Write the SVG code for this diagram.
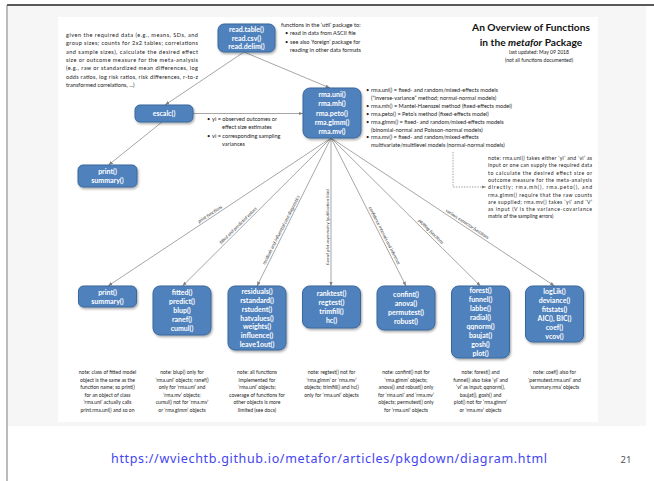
<svg xmlns="http://www.w3.org/2000/svg" width="654" height="481" viewBox="0 0 654 481">
<defs>
<style>
.box{fill:#4f81bd;stroke:#3a679c;stroke-width:1;filter:url(#sh)}
.bt{font-family:Lato,"Liberation Sans",sans-serif;font-weight:bold;font-size:7px;fill:#fff;text-anchor:middle}
.t{font-family:Lato,"Liberation Sans",sans-serif;font-size:5.6px;fill:#222}
.s{font-size:5.1px}
.n{font-family:Lato,"Liberation Sans",sans-serif;font-size:5.1px;fill:#222;text-anchor:middle}
.lab{font-family:Lato,"Liberation Sans",sans-serif;font-style:italic;font-size:4.6px;fill:#333;text-anchor:middle}
.ln{stroke:#808080;stroke-width:0.7;fill:none;marker-end:url(#ah)}
.dash{stroke:#808080;stroke-width:0.7;fill:none;stroke-dasharray:1.5 1.2;marker-end:url(#ah)}
.title{font-family:Lato,"Liberation Sans",sans-serif;font-weight:bold;font-size:10.2px;fill:#111;text-anchor:middle}
</style>
<filter id="sh" x="-20%" y="-20%" width="150%" height="150%">
<feDropShadow dx="1" dy="1.5" stdDeviation="0.8" flood-color="#000" flood-opacity="0.35"/>
</filter>
<marker id="ah" viewBox="0 0 10 10" refX="10" refY="5" markerWidth="4.5" markerHeight="4.5" orient="auto" markerUnits="userSpaceOnUse">
<path d="M0,1 L10,5 L0,9 z" fill="#808080"/>
</marker>
</defs>

<g id="slide">
<rect x="0" y="0" width="654" height="481" fill="#fff"/>
<rect x="8" y="6" width="638" height="420" fill="#f6f6f6"/>
<rect x="58" y="17" width="540" height="405" fill="#fff"/>
<line x1="7" y1="5" x2="654" y2="5" stroke="#222" stroke-width="1.5"/>
<line x1="7" y1="5" x2="7" y2="481" stroke="#777" stroke-width="1"/>
</g>

<g id="connectors">
<path class="ln" d="M244,52 L165,105"/>
<path class="ln" d="M244,52 L330,88"/>
<path class="ln" d="M162,122 L108.5,165"/>
<path class="ln" d="M193,113.5 L303,113.5"/>
<path class="ln" d="M331,138 L108,286"/>
<path class="ln" d="M331,138 L182.5,286"/>
<path class="ln" d="M331,138 L257,286"/>
<path class="ln" d="M331,138 L331,286"/>
<path class="ln" d="M331,138 L406,286"/>
<path class="ln" d="M331,138 L480.5,286"/>
<path class="ln" d="M331,138 L554.5,286"/>
<path class="dash" d="M453,152 L453,187 L486,187"/>
<text class="lab" transform="translate(210,214) rotate(-33.2)" y="1.6">print functions</text>
<text class="lab" transform="translate(238,225.5) rotate(-44.6)" y="1.6">fitted and predicted values</text>
<text class="lab" transform="translate(281,230) rotate(-63)" y="1.6">residuals and influential case diagnostics</text>
<text class="lab" transform="translate(327.5,227) rotate(-90)" y="1.6">funnel plot asymmetry (publication bias)</text>
<text class="lab" transform="translate(384.5,235.5) rotate(63.1)" y="1.6">confidence intervals and inference</text>
<text class="lab" transform="translate(431,231.5) rotate(44.4)" y="1.6">plotting functions</text>
<text class="lab" transform="translate(467.5,224) rotate(33.3)" y="1.6">various extractor functions</text>
</g>

<g id="intro-text">
<text class="t" x="66" y="37" textLength="132" lengthAdjust="spacing">given the required data (e.g., means, SDs, and</text>
<text class="t" x="66" y="45.3" textLength="132" lengthAdjust="spacing">group sizes; counts for 2x2 tables; correlations</text>
<text class="t" x="66" y="53.6" textLength="132" lengthAdjust="spacing">and sample sizes), calculate the desired effect</text>
<text class="t" x="66" y="61.9" textLength="132" lengthAdjust="spacing">size or outcome measure for the meta-analysis</text>
<text class="t" x="66" y="70.2" textLength="132" lengthAdjust="spacing">(e.g., raw or standardized mean differences, log</text>
<text class="t" x="66" y="78.5" textLength="132" lengthAdjust="spacing">odds ratios, log risk ratios, risk differences, r-to-z</text>
<text class="t" x="66" y="86.8">transformed correlations, ...)</text>
</g>

<g id="title">
<text class="title" x="531" y="31">An Overview of Functions</text>
<text class="title" x="531" y="46">in the <tspan font-style="italic">metafor</tspan> Package</text>
<text class="n" x="539" y="54">last updated: May 09 2018</text>
<text class="n" x="539" y="62">(not all functions documented)</text>
</g>

<g id="read">
<rect class="box" x="218" y="24" width="57" height="28" rx="6"/>
<text class="bt" x="246.5" y="31.9">read.table()</text>
<text class="bt" x="246.5" y="40.5">read.csv()</text>
<text class="bt" x="246.5" y="49.1">read.delim()</text>
</g>
<g id="read-note">
<text class="t" x="281" y="27">functions in the ‘util’ package to:</text>
<text class="t" x="285" y="35.3">•</text><text class="t" x="290" y="35.3">read in data from ASCII file</text>
<text class="t" x="285" y="43.6">•</text><text class="t" x="290" y="43.6">see also ‘foreign’ package for</text>
<text class="t" x="290" y="51.9">reading in other data formats</text>
</g>

<g id="escalc">
<rect class="box" x="135" y="105" width="58" height="17" rx="5"/>
<text class="bt" x="164" y="116">escalc()</text>
</g>
<g id="escalc-note">
<text class="t" x="207" y="121">•</text><text class="t" x="212" y="121">yi = observed outcomes or</text>
<text class="t" x="222" y="129.3">effect size estimates</text>
<text class="t" x="207" y="137.6">•</text><text class="t" x="212" y="137.6">vi = corresponding sampling</text>
<text class="t" x="222" y="145.9">variances</text>
</g>

<g id="print-top">
<rect class="box" x="78" y="165" width="59" height="22" rx="5"/>
<text class="bt" x="107.5" y="174">print()</text>
<text class="bt" x="107.5" y="183">summary()</text>
</g>

<g id="rma">
<rect class="box" x="303" y="88" width="58" height="50" rx="7"/>
<text class="bt" x="332" y="97">rma.uni()</text>
<text class="bt" x="332" y="106.25">rma.mh()</text>
<text class="bt" x="332" y="115.5">rma.peto()</text>
<text class="bt" x="332" y="124.75">rma.glmm()</text>
<text class="bt" x="332" y="134">rma.mv()</text>
</g>
<g id="rma-note">
<text class="t" x="366" y="92">•</text><text class="t" x="371" y="92">rma.uni() = fixed- and random/mixed-effects models</text>
<text class="t" x="371" y="99.9">(“inverse-variance” method; normal-normal models)</text>
<text class="t" x="366" y="107.8">•</text><text class="t" x="371" y="107.8">rma.mh() = Mantel-Haenszel method (fixed-effects model)</text>
<text class="t" x="366" y="115.7">•</text><text class="t" x="371" y="115.7">rma.peto() = Peto’s method (fixed-effects model)</text>
<text class="t" x="366" y="123.6">•</text><text class="t" x="371" y="123.6">rma.glmm() = fixed- and random/mixed-effects models</text>
<text class="t" x="371" y="131.5">(binomial-normal and Poisson-normal models)</text>
<text class="t" x="366" y="139.4">•</text><text class="t" x="371" y="139.4">rma.mv() = fixed- and random/mixed-effects</text>
<text class="t" x="371" y="147.3">multivariate/multilevel models (normal-normal models)</text>
</g>

<g id="rma-input-note">
<text class="t s" x="488" y="160" textLength="104" lengthAdjust="spacing">note: rma.uni() takes either ‘yi’ and ‘vi’ as</text>
<text class="t s" x="488" y="167.3" textLength="104" lengthAdjust="spacing">input or one can supply the required data</text>
<text class="t s" x="488" y="174.6" textLength="104" lengthAdjust="spacing">to calculate the desired effect size or</text>
<text class="t s" x="488" y="181.9" textLength="104" lengthAdjust="spacing">outcome measure for the meta-analysis</text>
<text class="t s" x="488" y="189.2" textLength="104" lengthAdjust="spacing">directly; rma.mh(), rma.peto(), and</text>
<text class="t s" x="488" y="196.5" textLength="104" lengthAdjust="spacing">rma.glmm() require that the raw counts</text>
<text class="t s" x="488" y="203.8" textLength="104" lengthAdjust="spacing">are supplied; rma.mv() takes ‘yi’ and ‘V’</text>
<text class="t s" x="488" y="211.1" textLength="104" lengthAdjust="spacing">as input (V is the variance-covariance</text>
<text class="t s" x="488" y="218.4">matrix of the sampling errors)</text>
</g>

<g id="print">
<rect class="box" x="78.5" y="286" width="58" height="21" rx="5"/>
<text class="bt" x="107.5" y="294.5">print()</text>
<text class="bt" x="107.5" y="303.5">summary()</text>
</g>
<g id="fitted">
<rect class="box" x="153" y="286" width="58" height="49" rx="7"/>
<text class="bt" x="182" y="295.2">fitted()</text>
<text class="bt" x="182" y="304.1">predict()</text>
<text class="bt" x="182" y="313">blup()</text>
<text class="bt" x="182" y="321.9">ranef()</text>
<text class="bt" x="182" y="330.8">cumul()</text>
</g>
<g id="residuals">
<rect class="box" x="228" y="286" width="58" height="64" rx="7"/>
<text class="bt" x="257" y="293.8">residuals()</text>
<text class="bt" x="257" y="302.7">rstandard()</text>
<text class="bt" x="257" y="311.6">rstudent()</text>
<text class="bt" x="257" y="320.5">hatvalues()</text>
<text class="bt" x="257" y="329.4">weights()</text>
<text class="bt" x="257" y="338.3">influence()</text>
<text class="bt" x="257" y="347.2">leave1out()</text>
</g>
<g id="ranktest">
<rect class="box" x="302.5" y="286" width="58" height="42" rx="7"/>
<text class="bt" x="331.5" y="296.2">ranktest()</text>
<text class="bt" x="331.5" y="305.1">regtest()</text>
<text class="bt" x="331.5" y="314">trimfill()</text>
<text class="bt" x="331.5" y="322.9">hc()</text>
</g>
<g id="confint">
<rect class="box" x="377" y="286" width="58" height="44" rx="7"/>
<text class="bt" x="406" y="297.2">confint()</text>
<text class="bt" x="406" y="306.1">anova()</text>
<text class="bt" x="406" y="315">permutest()</text>
<text class="bt" x="406" y="323.9">robust()</text>
</g>
<g id="forest">
<rect class="box" x="451.5" y="286" width="58" height="72" rx="7"/>
<text class="bt" x="480.5" y="293.4">forest()</text>
<text class="bt" x="480.5" y="302.3">funnel()</text>
<text class="bt" x="480.5" y="311.2">labbe()</text>
<text class="bt" x="480.5" y="320.1">radial()</text>
<text class="bt" x="480.5" y="329">qqnorm()</text>
<text class="bt" x="480.5" y="337.9">baujat()</text>
<text class="bt" x="480.5" y="346.8">gosh()</text>
<text class="bt" x="480.5" y="355.7">plot()</text>
</g>
<g id="loglik">
<rect class="box" x="525.5" y="286" width="58" height="56" rx="7"/>
<text class="bt" x="554.5" y="294.3">logLik()</text>
<text class="bt" x="554.5" y="303.2">deviance()</text>
<text class="bt" x="554.5" y="312.1">fitstats()</text>
<text class="bt" x="554.5" y="321">AIC(), BIC()</text>
<text class="bt" x="554.5" y="329.9">coef()</text>
<text class="bt" x="554.5" y="338.8">vcov()</text>
</g>

<g id="notes">
<text class="n" x="107.5" y="374">note: class of fitted model</text>
<text class="n" x="107.5" y="381.5">object is the same as the</text>
<text class="n" x="107.5" y="389">function name; so print()</text>
<text class="n" x="107.5" y="396.5">for an object of class</text>
<text class="n" x="107.5" y="404">‘rma.uni’ actually calls</text>
<text class="n" x="107.5" y="411.5">print.rma.uni() and so on</text>

<text class="n" x="182" y="374">note: blup() only for</text>
<text class="n" x="182" y="381.5">‘rma.uni’ objects; ranef()</text>
<text class="n" x="182" y="389">only for ‘rma.uni’ and</text>
<text class="n" x="182" y="396.5">‘rma.mv’ objects;</text>
<text class="n" x="182" y="404">cumul() not for ‘rma.mv’</text>
<text class="n" x="182" y="411.5">or ‘rma.glmm’ objects</text>

<text class="n" x="257" y="374">note: all functions</text>
<text class="n" x="257" y="381.5">implemented for</text>
<text class="n" x="257" y="389">‘rma.uni’ objects;</text>
<text class="n" x="257" y="396.5">coverage of functions for</text>
<text class="n" x="257" y="404">other objects is more</text>
<text class="n" x="257" y="411.5">limited (see docs)</text>

<text class="n" x="331.5" y="374">note: regtest() not for</text>
<text class="n" x="331.5" y="381.5">‘rma.glmm’ or ‘rma.mv’</text>
<text class="n" x="331.5" y="389">objects; trimfill() and hc()</text>
<text class="n" x="331.5" y="396.5">only for ‘rma.uni’ objects</text>

<text class="n" x="406" y="374">note: confint() not for</text>
<text class="n" x="406" y="381.5">‘rma.glmm’ objects;</text>
<text class="n" x="406" y="389">anova() and robust() only</text>
<text class="n" x="406" y="396.5">for ‘rma.uni’ and ‘rma.mv’</text>
<text class="n" x="406" y="404">objects; permutest() only</text>
<text class="n" x="406" y="411.5">for ‘rma.uni’ objects</text>

<text class="n" x="480.5" y="374">note: forest() and</text>
<text class="n" x="480.5" y="381.5">funnel() also take ‘yi’ and</text>
<text class="n" x="480.5" y="389">‘vi’ as input; qqnorm(),</text>
<text class="n" x="480.5" y="396.5">baujat(), gosh() and</text>
<text class="n" x="480.5" y="404">plot() not for ‘rma.glmm’</text>
<text class="n" x="480.5" y="411.5">or ‘rma.mv’ objects</text>

<text class="n" x="554.5" y="374">note: coef() also for</text>
<text class="n" x="554.5" y="381.5">‘permutest.rma.uni’ and</text>
<text class="n" x="554.5" y="389">‘summary.rma’ objects</text>
</g>

<g id="footer">
<text x="111" y="463" textLength="436" lengthAdjust="spacing" font-family="'Noto Sans','Liberation Sans',sans-serif" font-size="12.5" fill="#4444f0">https://wviechtb.github.io/metafor/articles/pkgdown/diagram.html</text>
<text x="626" y="463" font-family="'Noto Sans','Liberation Sans',sans-serif" font-size="9.5" fill="#555" text-anchor="middle">21</text>
</g>
</svg>
